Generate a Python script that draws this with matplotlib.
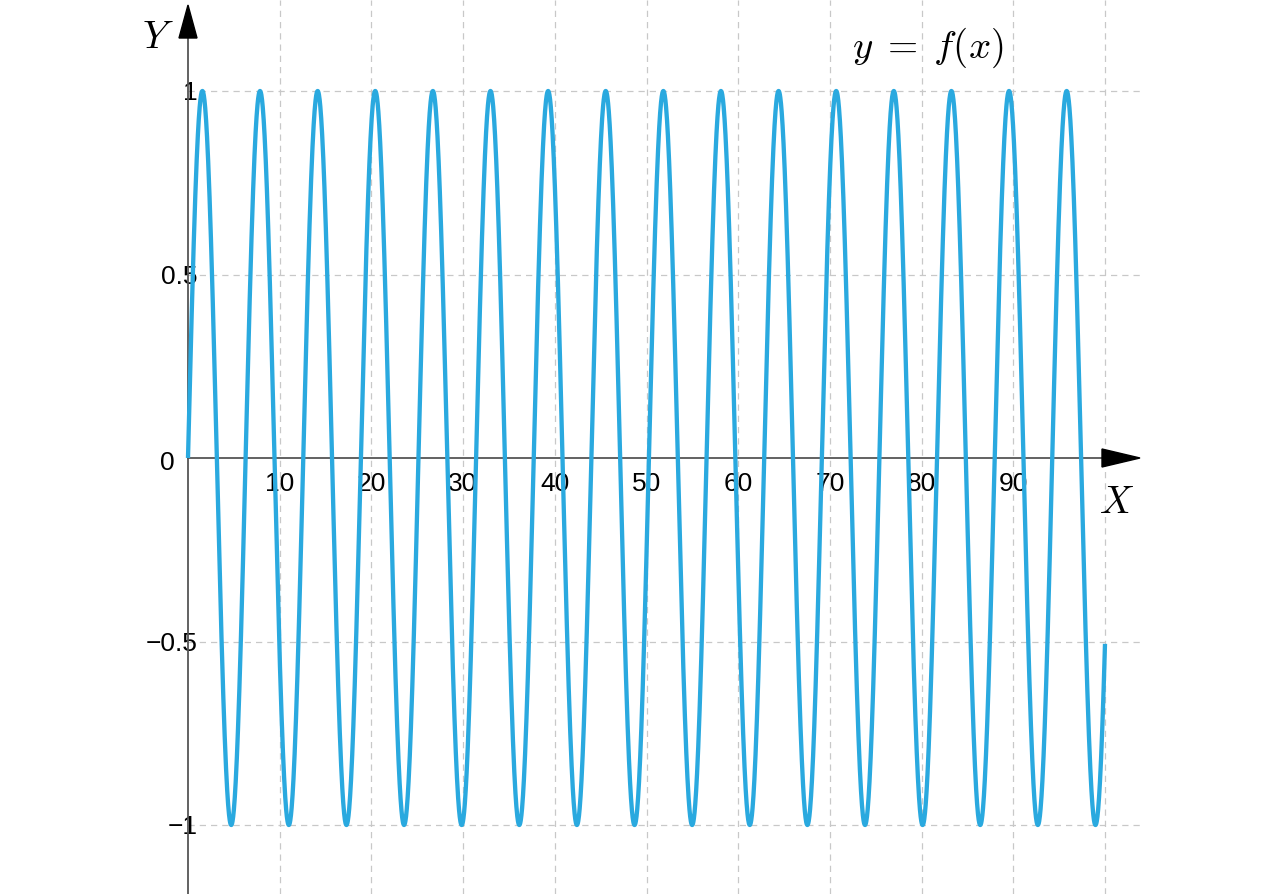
import numpy as np
import matplotlib
matplotlib.use("Agg")
import matplotlib.pyplot as plt
from matplotlib.transforms import ScaledTranslation

plt.rcParams["font.family"] = ["Liberation Sans", "DejaVu Sans"]
plt.rcParams["mathtext.fontset"] = "cm"

# curve: y = sin(x) over the plotted range
x_start = 0
x_end = 100
n_points = 4000

x_ticks = [10, 20, 30, 40, 50, 60, 70, 80, 90]
x_grid = [10, 20, 30, 40, 50, 60, 70, 80, 90, 100]
y_ticks = [-1, -0.5, 0, 0.5, 1]
y_labels = ["\u22121", "\u22120.5", "0", "0.5", "1"]
y_grid = [-1, -0.5, 0.5, 1]

x = np.linspace(x_start, x_end, n_points)
y = np.sin(x)

fig = plt.figure(figsize=(12.8, 8.94), dpi=100)
ax = fig.add_axes([0, 0, 1, 1])

# pixel layout: x=0 at 188px, 9.17px per unit; y=0 at 458px, 367px per unit
ax.set_xlim(-188 / 9.17, (1280 - 188) / 9.17)
ax.set_ylim(-(894 - 458) / 367, 458 / 367)

x_arrow_tip = (1140 - 188) / 9.17
x_arrow_base = (1102 - 188) / 9.17
y_arrow_tip = (458 - 5) / 367
y_arrow_base = (458 - 38) / 367

grid_kw = dict(color="#c8c8c8", lw=0.9, ls=(0, (5, 4)), zorder=1)
for gx in x_grid:
    ax.axvline(gx, **grid_kw)
ax.hlines(y_grid, 0, x_arrow_tip, **grid_kw)

ax.plot(x, y, color="#2aa9df", lw=3.1, zorder=3, solid_capstyle="butt")

for side in ["top", "right"]:
    ax.spines[side].set_visible(False)
ax.spines["left"].set_position(("data", 0))
ax.spines["bottom"].set_position(("data", 0))
ax.spines["left"].set_bounds(ax.get_ylim()[0], y_arrow_base)
ax.spines["bottom"].set_bounds(0, x_arrow_base)
for side in ["left", "bottom"]:
    ax.spines[side].set_color("#555555")
    ax.spines[side].set_linewidth(1.3)
    ax.spines[side].set_zorder(2)

# arrow heads
hw_x = 9 / 9.17
hw_y = 9 / 367
ax.fill([-hw_x, hw_x, 0], [y_arrow_base, y_arrow_base, y_arrow_tip],
        color="black", zorder=4, clip_on=False)
ax.fill([x_arrow_base, x_arrow_base, x_arrow_tip], [-hw_y, hw_y, 0],
        color="black", zorder=4, clip_on=False)

ax.set_xticks(x_ticks)
ax.set_xticklabels([str(t) for t in x_ticks])
ax.set_yticks(y_ticks)
ax.set_yticklabels(y_labels)
ax.tick_params(axis="both", length=0, labelsize=19, colors="black")
ax.tick_params(axis="x", pad=10)
ax.tick_params(axis="y", pad=-7)

# the origin label sits further left, clear of the axis
for lab in ax.get_yticklabels():
    if lab.get_text() == "0":
        lab.set_transform(lab.get_transform() +
                          ScaledTranslation(-0.23, -0.03, fig.dpi_scale_trans))

ax.text((158 - 188) / 9.17, (458 - 38) / 367, "$Y$", fontsize=28,
        ha="center", va="center")
ax.text((1117 - 188) / 9.17, (458 - 503) / 367, "$X$", fontsize=28,
        ha="center", va="center")
ax.text((928 - 188) / 9.17, (458 - 48) / 367, r"$y\;=\;f(x)$", fontsize=28,
        ha="center", va="center")

fig.savefig("out.png", dpi=100, facecolor="white")
